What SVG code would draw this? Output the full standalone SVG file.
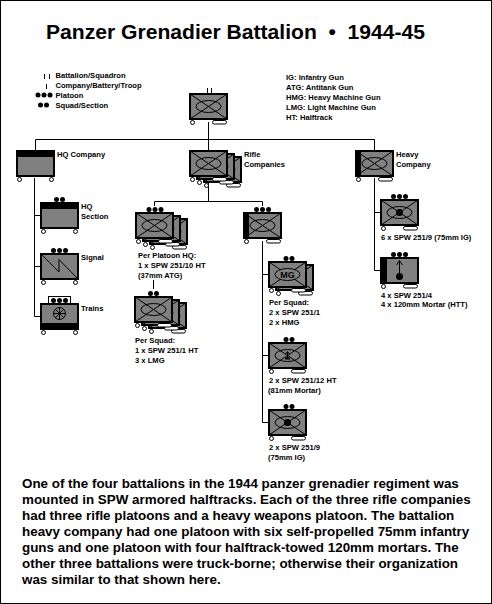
<svg xmlns="http://www.w3.org/2000/svg" xmlns:xlink="http://www.w3.org/1999/xlink" width="492" height="604" viewBox="0 0 492 604">
<style>
text{font-family:"Liberation Sans",Arial,sans-serif;font-weight:bold;fill:#000;white-space:pre}
.s{font-size:7.6px}
.b{font-size:13.4px}
.t{font-size:21.1px}
.box{fill:#808080;stroke:#000;stroke-width:2}
.ln{fill:none;stroke:#000;stroke-width:1}
.c{fill:none;stroke:#000;stroke-width:1}
.wh{fill:#fff;stroke:#000;stroke-width:1}
.k{fill:#000;stroke:none}
</style>
<defs>
<g id="ht-wheels"><circle class="wh" cx="2.500" cy="28.500" r="2"/><rect class="wh" x="22.500" y="26.500" width="14" height="3.500" rx="1.700"/></g>
<g id="ht-x"><use xlink:href="#ht-wheels"/><rect class="box" width="37" height="25"/><path class="ln" d="M0 0L37 25M37 0L0 25"/><ellipse class="ln" cx="18.500" cy="12.500" rx="12.500" ry="6"/></g>
<g id="ht-plain"><use xlink:href="#ht-wheels"/><rect class="box" width="37" height="25"/><path class="ln" d="M0 0L37 25M37 0L0 25"/></g>
<g id="stack3"><use xlink:href="#ht-x" x="14" y="6"/><use xlink:href="#ht-x" x="7" y="3"/><use xlink:href="#ht-x"/></g>
<g id="d2"><circle class="k" cx="-3" cy="0" r="2.500"/><circle class="k" cx="3" cy="0" r="2.500"/></g>
<g id="d3"><circle class="k" cx="-6" cy="0" r="2.500"/><circle class="k" cx="0" cy="0" r="2.500"/><circle class="k" cx="6" cy="0" r="2.500"/></g>
<g id="wh2"><circle class="wh" cx="2.500" cy="28.500" r="2"/><circle class="wh" cx="34.500" cy="28.500" r="2"/></g>
</defs>
<rect width="492" height="604" fill="#fff"/>
<rect x="0.500" y="0.500" width="491" height="603" fill="none" stroke="#000"/>
<text id="title" class="t" x="46" y="39">Panzer Grenadier Battalion  •  1944-45</text>
<g id="legend">
<path class="c" d="M44.500 74V79M49.500 74V79M46.500 84V89"/>
<use xlink:href="#d3" x="44" y="95"/><use xlink:href="#d2" x="43.500" y="105"/>
<text class="s" x="55.500" y="78">Battalion/Squadron</text>
<text class="s" x="55.500" y="88">Company/Battery/Troop</text>
<text class="s" x="55.500" y="98">Platoon</text>
<text class="s" x="55.500" y="108">Squad/Section</text>
</g>
<g id="abbreviations">
<text class="s" x="286" y="80">IG: Infantry Gun</text>
<text class="s" x="286" y="90">ATG: Antitank Gun</text>
<text class="s" x="286" y="100">HMG: Heavy Machine Gun</text>
<text class="s" x="286" y="110">LMG: Light Machine Gun</text>
<text class="s" x="286" y="120">HT: Halftrack</text>
</g>
<g id="connectors">
<path class="c" d="M208.500 122V150M35.500 150V139.500H374.500V150"/>
<path class="c" d="M34.500 178V316.500H40M34.500 215.500H40M34.500 266.500H40"/>
<path class="c" d="M208.500 180V201.500M154.500 206V201.500H262.500V206"/>
<path class="c" d="M153.500 280V289"/>
<path class="c" d="M262.500 241V422.500H268M262.500 274.500H268M262.500 355.500H268"/>
<path class="c" d="M374.500 178V270.500H380M374.500 212.500H380"/>
</g>
<g id="battalion"><use xlink:href="#ht-x" x="190" y="94"/><path class="c" d="M207.500 88V93M211.500 88V93"/></g>
<g id="hq-company"><use xlink:href="#wh2" x="17" y="151"/><rect class="box" x="17" y="151" width="37" height="25"/><rect class="k" x="16" y="150" width="39" height="7"/><text class="s" x="57" y="157">HQ Company</text></g>
<g id="rifle-companies"><use xlink:href="#stack3" x="190" y="151"/><text class="s" x="244" y="157">Rifle</text><text class="s" x="244" y="167">Companies</text></g>
<g id="heavy-company"><use xlink:href="#ht-x" x="356" y="151"/><rect class="k" x="355" y="150" width="6" height="27"/><text class="s" x="396" y="157">Heavy</text><text class="s" x="396" y="167">Company</text></g>
<g id="hq-section"><use xlink:href="#wh2" x="41" y="203"/><rect class="box" x="41" y="203" width="37" height="25"/><rect class="k" x="40" y="202" width="39" height="7"/><use xlink:href="#d2" x="59.500" y="199.500"/><text class="s" x="81" y="209">HQ</text><text class="s" x="81" y="219">Section</text></g>
<g id="signal"><use xlink:href="#wh2" x="41" y="254"/><rect class="box" x="41" y="254" width="37" height="25"/><path class="ln" d="M41 254L59 272V259.500L78 279"/><use xlink:href="#d3" x="59.500" y="250.500"/><text class="s" x="81" y="260">Signal</text></g>
<g id="trains"><use xlink:href="#wh2" x="41" y="304"/><rect class="wh" x="48.500" y="296.500" width="22" height="7"/><rect class="box" x="41" y="304" width="37" height="25"/><rect class="k" x="40" y="323" width="39" height="7"/><use xlink:href="#d3" x="59.500" y="300.500"/><circle class="ln" cx="59.500" cy="313.500" r="6"/><path class="ln" d="M53.500 313.500H65.500M59.500 307.500V319.500M55.300 309.300L63.700 317.700M63.700 309.300L55.300 317.700"/><circle class="k" cx="59.500" cy="313.500" r="1.500"/><text class="s" x="81" y="311">Trains</text></g>
<g id="platoon-hq"><use xlink:href="#stack3" x="136" y="213"/><use xlink:href="#d3" x="155" y="209.500"/><text class="s" x="138" y="258">Per Platoon HQ:</text><text class="s" x="138" y="268">1 x SPW 251/10 HT</text><text class="s" x="138" y="278">(37mm ATG)</text></g>
<g id="platoon-squad"><use xlink:href="#stack3" x="135" y="297"/><use xlink:href="#d2" x="153.500" y="293.500"/><text class="s" x="135" y="343">Per Squad:</text><text class="s" x="135" y="353">1 x SPW 251/1 HT</text><text class="s" x="135" y="363">3 x LMG</text></g>
<g id="weapons-platoon"><use xlink:href="#ht-x" x="244" y="213"/><rect class="k" x="243" y="212" width="6" height="27"/><use xlink:href="#d3" x="262.500" y="209.500"/></g>
<g id="hmg-squad"><use xlink:href="#ht-plain" x="276" y="265"/><use xlink:href="#ht-plain" x="269" y="262"/><ellipse cx="287.500" cy="274.500" rx="12.500" ry="6" fill="#808080" stroke="#000"/><text x="287.500" y="278" font-size="9" text-anchor="middle">MG</text><use xlink:href="#d2" x="289" y="258.500"/><text class="s" x="269" y="305">Per Squad:</text><text class="s" x="269" y="315">2 x SPW 251/1</text><text class="s" x="269" y="325">2 x HMG</text></g>
<g id="mortar-squad"><use xlink:href="#ht-x" x="269" y="343"/><path class="c" d="M287.500 352V359M285.500 354L287.500 351.500L289.500 354"/><path d="M285 358.500H290" fill="none" stroke="#000" stroke-width="2"/><use xlink:href="#d2" x="289" y="339.500"/><text class="s" x="269" y="383">2 x SPW 251/12 HT</text><text class="s" x="268" y="393">(81mm Mortar)</text></g>
<g id="ig-squad"><use xlink:href="#ht-x" x="269" y="410"/><circle class="k" cx="287.500" cy="422.500" r="3.500"/><use xlink:href="#d2" x="289" y="406.500"/><text class="s" x="269" y="450">2 x SPW 251/9</text><text class="s" x="268" y="460">(75mm IG)</text></g>
<g id="ig-platoon"><use xlink:href="#ht-x" x="381" y="200"/><circle class="k" cx="399.500" cy="212.500" r="3.500"/><use xlink:href="#d3" x="399.500" y="196.500"/><text class="s" x="381" y="240">6 x SPW 251/9 (75mm IG)</text></g>
<g id="mortar-platoon"><use xlink:href="#ht-wheels" x="381" y="258"/><rect class="box" x="381" y="258" width="37" height="25"/><rect class="k" x="380" y="257" width="7" height="27"/><path class="c" d="M399.500 276V261M396.500 265L399.500 260.500L402.500 265"/><circle class="k" cx="399.500" cy="276.500" r="3.500"/><use xlink:href="#d3" x="399.500" y="254.500"/><text class="s" x="381" y="298">4 x SPW 251/4</text><text class="s" x="381" y="307">4 x 120mm Mortar (HTT)</text></g>
<g id="caption">
<text class="b" x="22" y="488">One of the four battalions in the 1944 panzer grenadier regiment was</text>
<text class="b" x="22" y="504">mounted in SPW armored halftracks. Each of the three rifle companies</text>
<text class="b" x="22" y="520">had three rifle platoons and a heavy weapons platoon. The battalion</text>
<text class="b" x="22" y="536">heavy company had one platoon with six self-propelled 75mm infantry</text>
<text class="b" x="22" y="552">guns and one platoon with four halftrack-towed 120mm mortars. The</text>
<text class="b" x="22" y="568">other three battalions were truck-borne; otherwise their organization</text>
<text class="b" x="22" y="584">was similar to that shown here.</text>
</g>
</svg>
